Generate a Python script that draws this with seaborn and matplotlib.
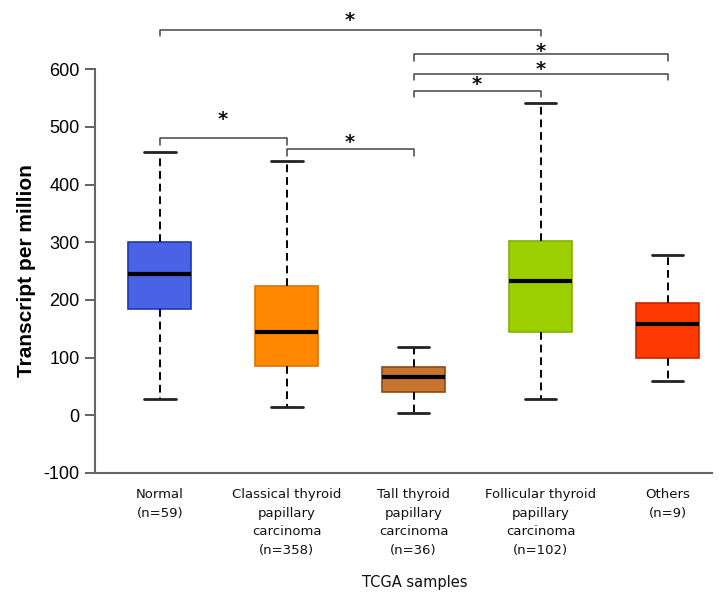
import numpy as np
import pandas as pd
import matplotlib
matplotlib.use("Agg")
import matplotlib.pyplot as plt
import seaborn as sns

# ---- data ----
categories = ["Normal\n(n=59)",
              "Classical thyroid\npapillary\ncarcinoma\n(n=358)",
              "Tall thyroid\npapillary\ncarcinoma\n(n=36)",
              "Follicular thyroid\npapillary\ncarcinoma\n(n=102)",
              "Others\n(n=9)"]
mins    = [29, 14, 4, 28, 59]
q1s     = [184, 85, 41, 145, 100]
medians = [245, 145, 66, 232, 159]
q3s     = [300, 224, 84, 302, 194]
maxs    = [457, 441, 119, 541, 278]

fill_colors = ["#4a62e6", "#ff8800", "#c8732e", "#9dce00", "#ff3a00"]
edge_colors = ["#2036b8", "#e07000", "#8a4a14", "#86b000", "#c82400"]

# significance brackets: (left index, right index, height, star offset above line)
br_left   = [0, 2, 2, 2, 0, 1]
br_right  = [3, 4, 4, 3, 1, 2]
br_height = [668, 626, 592, 563, 480, 461]
star_off  = [21, 10, 12, 16, 38, 16]

yticks = [-100, 0, 100, 200, 300, 400, 500, 600]

# build a frame whose 5-number summary equals the read statistics
rows = []
for c, a, b, m, d, e in zip(categories, mins, q1s, medians, q3s, maxs):
    for v in (a, b, m, d, e):
        rows.append({"group": c, "tpm": v})
df = pd.DataFrame(rows)

sns.set_style("white")
plt.rcParams["font.family"] = ["Liberation Sans", "DejaVu Sans"]
plt.rcParams["text.color"] = "black"

fig = plt.figure(figsize=(7.25, 5.93), dpi=100)
ax = fig.add_axes([0.131, 0.2024, 0.851, 0.7976])

sns.boxplot(data=df, x="group", y="tpm", hue="group", order=categories,
            hue_order=categories, palette=fill_colors, legend=False,
            whis=(0, 100), width=0.5, linecolor="black", linewidth=1.2,
            showfliers=False, saturation=1, ax=ax,
            whiskerprops=dict(linestyle=(0, (4, 2.5)), linewidth=1.4, color="black"),
            capprops=dict(linewidth=2.0, color="#222222"),
            medianprops=dict(linewidth=3.0, color="black"),
            boxprops=dict(linewidth=1.2))

for patch, ec in zip(ax.patches, edge_colors):
    patch.set_edgecolor(ec)

ax.set_xlim(-0.51, 4.35)
ax.set_ylim(-100, 720)
ax.set_yticks(yticks)
ax.set_yticklabels([str(t) for t in yticks], fontsize=13, color="black")

ax.set_xticks(range(len(categories)))
ax.set_xticklabels(categories, fontsize=9.5, family=["DejaVu Sans"],
                   linespacing=1.55, color="#111111")
ax.tick_params(axis="x", length=0, pad=11)
ax.tick_params(axis="y", length=7, width=1.3, color="#555555", direction="out",
               left=True, pad=4)

for s in ["top", "right"]:
    ax.spines[s].set_visible(False)
for s in ["left", "bottom"]:
    ax.spines[s].set_color("#666666")
    ax.spines[s].set_linewidth(1.5)
ax.spines["left"].set_bounds(-100, 600)

ax.set_ylabel("Transcript per million", fontsize=15, fontweight="bold",
              color="black")
ax.yaxis.set_label_coords(-0.095, 0.427)
ax.set_xlabel("TCGA samples", fontsize=10.5, family=["DejaVu Sans"], color="#111111")
ax.xaxis.set_label_coords(0.519, -0.215)

drop = 11
for l, r, h, so in zip(br_left, br_right, br_height, star_off):
    ax.plot([l, l, r, r], [h - drop, h, h, h - drop], color="#444444", lw=1.1,
            clip_on=False)
    ax.annotate("*", xy=((l + r) / 2, h + so), xytext=(0, -6),
                textcoords="offset points", ha="center", va="baseline",
                fontsize=14, fontweight="bold", family=["DejaVu Sans"],
                color="#111111", annotation_clip=False)

fig.savefig("out.png", dpi=100)
